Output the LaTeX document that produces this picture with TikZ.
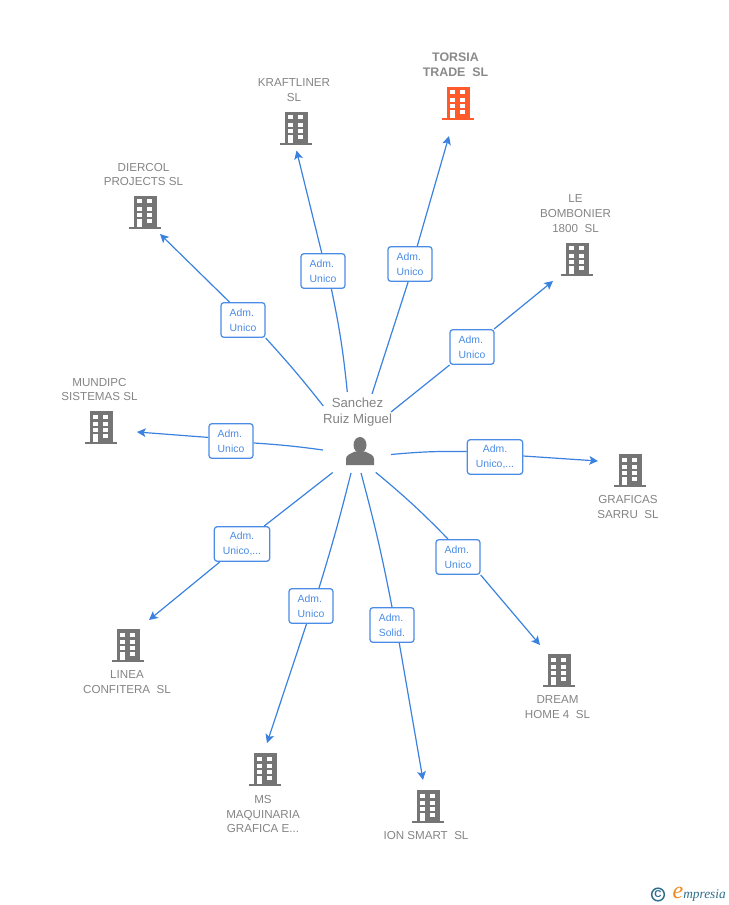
\documentclass[tikz,border=0pt]{standalone}
\usepackage{fontspec}
\usetikzlibrary{arrows.meta}
\setmainfont{Liberation Sans}
\newfontfamily\logofont{Liberation Serif}
\definecolor{linkblue}{HTML}{3B82E0}
\definecolor{boxblue}{HTML}{4A8CE6}
\definecolor{labelgray}{HTML}{848484}
\definecolor{maingray}{HTML}{8A8A8A}
\definecolor{icongray}{HTML}{757575}
\definecolor{iconred}{HTML}{FF5A2B}
\definecolor{logoteal}{HTML}{2F6E8A}
\definecolor{logoorange}{HTML}{F08A1D}
\tikzset{
  linkline/.style={draw=linkblue,line width=0.9pt,-{Stealth[length=6.5pt,width=6.5pt,inset=1.5pt]}},
  linkstart/.style={draw=linkblue,line width=0.9pt},
  rolebox/.style={draw=boxblue,fill=white,rounded corners=2.2pt,line width=0.95pt,
    text=boxblue,font=\fontsize{7.8}{11.25}\selectfont,align=left,inner sep=0pt,
    minimum width=33pt,minimum height=26pt},
  widebox/.style={rolebox,align=center,minimum width=41.5pt},
  firmlabel/.style={text=labelgray,font=\fontsize{8.7}{11.2}\selectfont,align=center,inner sep=0pt},
  mainlabel/.style={firmlabel,text=maingray,font=\fontsize{9.3}{11.2}\selectfont\bfseries},
  personlabel/.style={text=labelgray,font=\fontsize{9.9}{11.6}\selectfont,align=center,inner sep=0pt},
  pics/building/.style={code={
    \fill[#1](-11,-16.3)rectangle(11.5,14.7);
    \fill[#1](-16,14.7)rectangle(16,17.3);
    \foreach \wx in {-5.2,4.6}{
      \foreach \wy in {-10.5,-3.3,3.3}{
        \fill[white](\wx-2.4,\wy-2)rectangle(\wx+2.4,\wy+2);
      }
    }
    \fill[white](-7.6,7)rectangle(-2.8,14.7);
    \fill[white](2.2,7)rectangle(7,11.3);
  }}
}
\begin{document}
\begin{tikzpicture}[x=0.75pt,y=-0.75pt]
    \useasboundingbox(0,0)rectangle(728,905);

    % start points round the person
    \coordinate(sTorsia)at(372,394);
    \coordinate(sKraft)at(347.3,392);
    \coordinate(sDiercol)at(323.3,406);
    \coordinate(sBomb)at(391,412);
    \coordinate(sMundi)at(323,450);
    \coordinate(sGraf)at(391,454.5);
    \coordinate(sLinea)at(332.7,472.5);
    \coordinate(sMs)at(351,473);
    \coordinate(sIon)at(361,473);
    \coordinate(sDream)at(375.7,472.3);

    % arrow ends
    \coordinate(eTorsia)at(449,136);
    \coordinate(eKraft)at(296.5,150.5);
    \coordinate(eDiercol)at(160,234);
    \coordinate(eBomb)at(553,281);
    \coordinate(eMundi)at(137,432);
    \coordinate(eGraf)at(598,461);
    \coordinate(eLinea)at(149,620);
    \coordinate(eMs)at(267,743);
    \coordinate(eIon)at(423,780);
    \coordinate(eDream)at(540,645);

    % role boxes
    \node(bTorsia)at(410,264)[rolebox]{Adm.\\Unico};
    \node(bKraft)at(323,271)[rolebox]{Adm.\\Unico};
    \node(bDiercol)at(243,320)[rolebox]{Adm.\\Unico};
    \node(bBomb)at(472,347)[rolebox]{Adm.\\Unico};
    \node(bMundi)at(231,441)[rolebox]{Adm.\\Unico};
    \node(bGraf)at(495,457)[widebox]{Adm.\\Unico,...};
    \node(bLinea)at(242,544)[widebox]{Adm.\\Unico,...};
    \node(bMs)at(311,606)[rolebox]{Adm.\\Unico};
    \node(bIon)at(392,625)[rolebox]{Adm.\\Solid.};
    \node(bDream)at(458,557)[rolebox]{Adm.\\Unico};

    % connectors
    \draw[linkstart](sTorsia)--(bTorsia.-96);
    \draw[linkline](bTorsia.68)--(eTorsia);
    \draw[linkstart](sKraft)to[bend right=3](bKraft.-65);
    \draw[linkline](bKraft.94)--(eKraft);
    \draw[linkstart](sDiercol)to[bend right=2](bDiercol.south east);
    \draw[linkline](bDiercol.127)--(eDiercol);
    \draw[linkstart](sBomb)--(bBomb);
    \draw[linkline](bBomb)--(eBomb);
    \draw[linkstart](sMundi)to[bend right=2](bMundi.-5);
    \draw[linkline](bMundi.171)--(eMundi);
    \draw[linkstart](sGraf)to[bend left=3](bGraf.169);
    \draw[linkline](bGraf.2)--(eGraf);
    \draw[linkstart](sLinea)--(bLinea.39);
    \draw[linkline](bLinea.-141)--(eLinea);
    \draw[linkstart](sMs)to[bend left=1.5](bMs.66);
    \draw[linkline](bMs.-104)--(eMs);
    \draw[linkstart](sIon)to[bend left=2](bIon.north);
    \draw[linkline](bIon.-68)--(eIon);
    \draw[linkstart](sDream)to[bend left=3](bDream.119);
    \draw[linkline](bDream.south east)--(eDream);

    % person
    \node(person)at(357.5,412)[personlabel]{Sanchez\\Ruiz Miguel};
    \fill[icongray](360,445)ellipse(6.5 and 8);
    \fill[icongray](346,465)--(346,459)..controls(346,455)and(350,454)..(355,451.5)
      --(365,451.5)..controls(370,454)and(374,455)..(374,459)--(374,465)--cycle;

    % firms
    \pic at(458,103){building=iconred};
    \node(torsia)at(455.5,65)[mainlabel]{TORSIA\\TRADE\ \ SL};
    \pic at(296,128){building=icongray};
    \node(kraft)at(294,90)[firmlabel]{KRAFTLINER\\SL};
    \pic at(145,212){building=icongray};
    \node(diercol)at(143.5,174.5)[firmlabel]{DIERCOL\\PROJECTS SL};
    \pic at(577,259){building=icongray};
    \node(bomb)at(575.5,213.5)[firmlabel]{LE\\BOMBONIER\\1800\ \ SL};
    \pic at(101,427){building=icongray};
    \node(mundi)at(99.5,389.5)[firmlabel]{MUNDIPC\\SISTEMAS SL};
    \pic at(630,470){building=icongray};
    \node(graf)at(628,507)[firmlabel]{GRAFICAS\\SARRU\ \ SL};
    \pic at(128,645){building=icongray};
    \node(linea)at(127,682)[firmlabel]{LINEA\\CONFITERA\ \ SL};
    \pic at(265,769){building=icongray};
    \node(ms)at(263,814)[firmlabel]{MS\\MAQUINARIA\\GRAFICA E...};
    \pic at(428,806){building=icongray};
    \node(ion)at(426,835.5)[firmlabel]{ION SMART\ \ SL};
    \pic at(559,670){building=icongray};
    \node(dream)at(557.5,707)[firmlabel]{DREAM\\HOME 4\ \ SL};

    % logo
    \node(logoc)at(658,894.5)[circle,draw=logoteal,line width=1.1pt,minimum size=9.5pt,inner sep=0pt,
      text=logoteal,font=\fontsize{7.5}{7.5}\selectfont\bfseries]{C};
    \node(logoe)at(678,893)[text=logoorange,inner sep=0pt,font=\logofont\itshape\fontsize{18}{18}\selectfont]{e};
    \node(logotext)at(704.5,895)[text=logoteal,inner sep=0pt,font=\logofont\itshape\fontsize{10}{10}\selectfont]{mpresia};
\end{tikzpicture}
\end{document}
